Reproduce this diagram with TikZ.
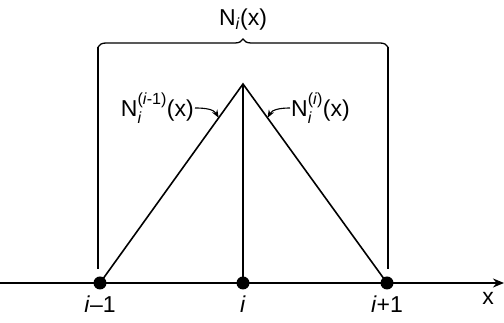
\documentclass[tikz,border=0pt]{standalone}
\usepackage{amsmath}
\usepackage{fontspec}
\setmainfont{Liberation Sans}
\usetikzlibrary{arrows.meta,calc,decorations.pathreplacing}
\tikzset{
  dot/.style   ={circle, fill=black, inner sep=0pt, minimum size=13pt},
  lbl/.style   ={font=\fontsize{23}{26}\selectfont, inner sep=1pt},
  ln/.style    ={line width=1.6pt, draw=black},
  axis/.style  ={line width=1.9pt, -{Stealth[length=11pt,width=9pt]}},
  lead/.style  ={line width=1.1pt, -{Stealth[length=8pt,width=6pt]}},
  brc/.style   ={line width=1.3pt, decorate, decoration={brace, amplitude=8pt}},
}
\newcommand{\ii}{\text{\textit{i}}}

\begin{document}
\begin{tikzpicture}[x=1pt,y=1pt]
  \useasboundingbox (0,0) rectangle (504,323);

  % axis with the three nodes
  \coordinate (xl) at (0,40);
  \coordinate (xr) at (504,40);
  \node[dot] (pa) at (100,40) {};
  \node[dot] (pb) at (243,40) {};
  \node[dot] (pc) at (387,40) {};
  \coordinate (top) at (243,239);
  \draw[axis] (xl) -- (xr);

  % hat function
  \draw[ln] (pa.center) -- (top) -- (pc.center);
  \draw[ln] (top) -- (pb.center);

  % support bracket
  \coordinate (bl) at (98,276);
  \coordinate (br) at (388,276);
  \coordinate (bl0) at (98,54);
  \coordinate (br0) at (388,54);
  \draw[brc] (bl) -- (br);
  \draw[line width=1.3pt] (bl) -- (bl0);
  \draw[line width=1.3pt] (br) -- (br0);
  \node[lbl] (nall) at (243,303) {N$_{\ii}$(x)};

  % element pieces
  \node[lbl, anchor=east] (nleft) at (195,215) {N$_{\ii}^{\text{(\textit{i}-1)}}$(x)};
  \node[lbl, anchor=west] (nright) at (290,215) {N$_{\ii}^{\text{(\textit{i})}}$(x)};
  \coordinate (hl) at ($(pa.center)!0.83!(top)$);
  \coordinate (hr) at ($(pc.center)!0.83!(top)$);
  \draw[lead] (nleft.east) to[out=0,in=120] (hl);
  \draw[lead] (nright.west) to[out=180,in=60] (hr);

  % axis labels
  \node[lbl] (la) at (100,19) {\textit{i}--1};
  \node[lbl] (lb) at (243,19) {\textit{i}};
  \node[lbl] (lc) at (387,19) {\textit{i}+1};
  \node[lbl] (lx) at (488,25) {x};
\end{tikzpicture}
\end{document}
